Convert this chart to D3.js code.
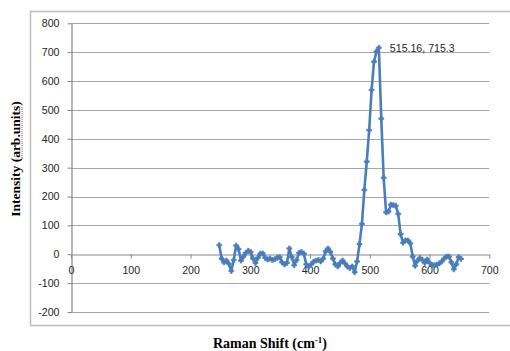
<!DOCTYPE html>
<html>
<head>
<meta charset="utf-8">
<script src="https://cdn.jsdelivr.net/npm/d3@7"></script>
<style>
  body { margin: 0; background: #fff; }
  svg { display: block; }
</style>
</head>
<body>
<div id="chart"></div>
<script>
// Raman spectrum
var shift = [248.00, 252.05, 256.10, 260.14, 264.19, 268.24, 272.29, 276.34, 280.38, 284.43,
  288.48, 292.53, 296.58, 300.62, 304.67, 308.72, 312.77, 316.82, 320.86, 324.91,
  328.96, 333.01, 337.06, 341.10, 345.15, 349.20, 353.25, 357.30, 361.34, 365.39,
  369.44, 373.49, 377.54, 381.58, 385.63, 389.68, 393.73, 397.78, 401.82, 405.87,
  409.92, 413.97, 418.02, 422.06, 426.11, 430.16, 434.21, 438.26, 442.30, 446.35,
  450.40, 454.45, 458.50, 462.54, 466.59, 470.64, 474.69, 478.74, 482.78, 486.83,
  490.88, 494.93, 498.98, 503.02, 507.07, 511.12, 515.16, 519.21, 523.26, 527.31,
  531.36, 535.40, 539.45, 543.50, 547.55, 551.60, 555.64, 559.69, 563.74, 567.79,
  571.84, 575.88, 579.93, 583.98, 588.03, 592.08, 596.12, 600.17, 604.22, 608.27,
  612.32, 616.36, 620.41, 624.46, 628.51, 632.56, 636.60, 640.65, 644.70, 648.75,
  652.80];
var intensity = [32, -15, -28, -22, -33, -58, -20, 30, 18, -22,
  -8, 5, 12, 8, -15, -30, -12, 2, 3, -12,
  -18, -15, -20, -17, -12, -10, -28, -35, -30, 20,
  -10, -38, -20, 5, 8, 2, -35, -43, -35, -26,
  -22, -20, -25, -15, 10, 20, 8, -15, -35, -42,
  -30, -22, -32, -42, -48, -42, -62, -25, 35, 105,
  223, 321, 430, 569, 667, 702, 715.3, 470, 265, 145,
  148, 172, 170, 168, 140, 70, 40, 48, 48, 38,
  -8, -40, -22, -12, -20, -30, -18, -30, -38, -38,
  -36, -32, -25, -15, -8, -8, -28, -52, -35, -10,
  -16];
var xTicks = [0, 100, 200, 300, 400, 500, 600, 700];
var yTicks = [-200, -100, 0, 100, 200, 300, 400, 500, 600, 700, 800];
var peakLabel = "515.16, 715.3";

var data = shift.map(function(s, i) { return {x: s, y: intensity[i]}; });
var peak = data[d3.maxIndex(data, function(d) { return d.y; })];

var W = 510, H = 351;
var svg = d3.select("#chart").append("svg")
    .attr("width", W)
    .attr("height", H);

// chart area frame
svg.append("rect")
    .attr("x", 30.5).attr("y", 11.5)
    .attr("width", 500).attr("height", 314)
    .attr("fill", "none")
    .attr("stroke", "#bdbdbd")
    .attr("stroke-width", 1.5);

var x = d3.scaleLinear().domain([0, 700]).range([71, 489.3]);
var y = d3.scaleLinear().domain([-200, 800]).range([312, 23.3]);

// plain hyphen for negatives, like the original
var fmt = function(d) { return String(d); };

// gridlines
svg.append("g").selectAll("line")
  .data(yTicks.filter(function(t) { return t !== 0; }))
  .enter().append("line")
    .attr("x1", x(0)).attr("x2", x(700))
    .attr("y1", function(d) { return Math.round(y(d)) + 0.5; })
    .attr("y2", function(d) { return Math.round(y(d)) + 0.5; })
    .attr("stroke", "#a6a6a6")
    .attr("stroke-width", 1.2);

// Y axis
var yAxis = svg.append("g")
    .attr("transform", "translate(71.5,0)")
    .call(d3.axisLeft(y).tickValues(yTicks).tickFormat(fmt).tickSize(4).tickPadding(8).tickSizeOuter(0));

// X axis on the zero line
var xAxis = svg.append("g")
    .attr("transform", "translate(0," + (Math.round(y(0)) + 0.5) + ")")
    .call(d3.axisBottom(x).tickValues(xTicks).tickFormat(fmt).tickSize(4).tickPadding(8).tickSizeOuter(0));

[yAxis, xAxis].forEach(function(g) {
  g.select(".domain").attr("stroke", "#868686").attr("stroke-width", 1.2);
  g.selectAll(".tick line").attr("stroke", "#868686");
  g.selectAll(".tick text")
    .attr("fill", "#262626")
    .style("font-family", "'Liberation Sans', Arial, sans-serif")
    .style("font-size", "10.6px");
});

// series
var line = d3.line()
    .x(function(d) { return x(d.x); })
    .y(function(d) { return y(d.y); });

svg.append("path")
    .datum(data)
    .attr("fill", "none")
    .attr("stroke", "#4a7ebb")
    .attr("stroke-width", 2.6)
    .attr("stroke-linejoin", "round")
    .attr("d", line);

svg.append("g").selectAll("path")
  .data(data)
  .enter().append("path")
    .attr("transform", function(d) { return "translate(" + x(d.x) + "," + y(d.y) + ")"; })
    .attr("d", d3.symbol().type(d3.symbolCross).size(14))
    .attr("fill", "#4a7ebb")
    .attr("stroke", "#4a7ebb")
    .attr("stroke-width", 0.6);

// peak label
svg.append("text")
    .attr("x", x(peak.x) + 11)
    .attr("y", y(peak.y) + 4)
    .attr("fill", "#262626")
    .style("font-family", "'Liberation Sans', Arial, sans-serif")
    .style("font-size", "10.6px")
    .text(peakLabel);

// axis titles
svg.append("text")
    .attr("x", 270)
    .attr("y", 348)
    .attr("text-anchor", "middle")
    .style("font-family", "'Liberation Serif', 'Times New Roman', serif")
    .style("font-weight", "bold")
    .style("font-size", "14px")
    .html("Raman Shift (cm<tspan dy='-5' font-size='9px'>-1</tspan><tspan dy='5'>)</tspan>");

var yTitle = svg.append("text")
    .attr("transform", "translate(20,159) rotate(-90)")
    .attr("text-anchor", "middle")
    .style("font-family", "'Liberation Serif', 'Times New Roman', serif")
    .style("font-weight", "bold")
    .style("font-size", "13.5px")
    .text("Intensity (arb.units)");

// spell-check squiggle under "arb.units"
var node = yTitle.node();
var total = node.getComputedTextLength();
var start = node.getSubStringLength(0, 11) - total / 2;
var len = node.getSubStringLength(11, 9);
svg.append("line")
    .attr("transform", "translate(20,159) rotate(-90)")
    .attr("x1", start).attr("x2", start + len)
    .attr("y1", 2).attr("y2", 2)
    .attr("stroke", "#e03030")
    .attr("stroke-width", 1)
    .attr("stroke-dasharray", "1,1");
</script>
</body>
</html>
